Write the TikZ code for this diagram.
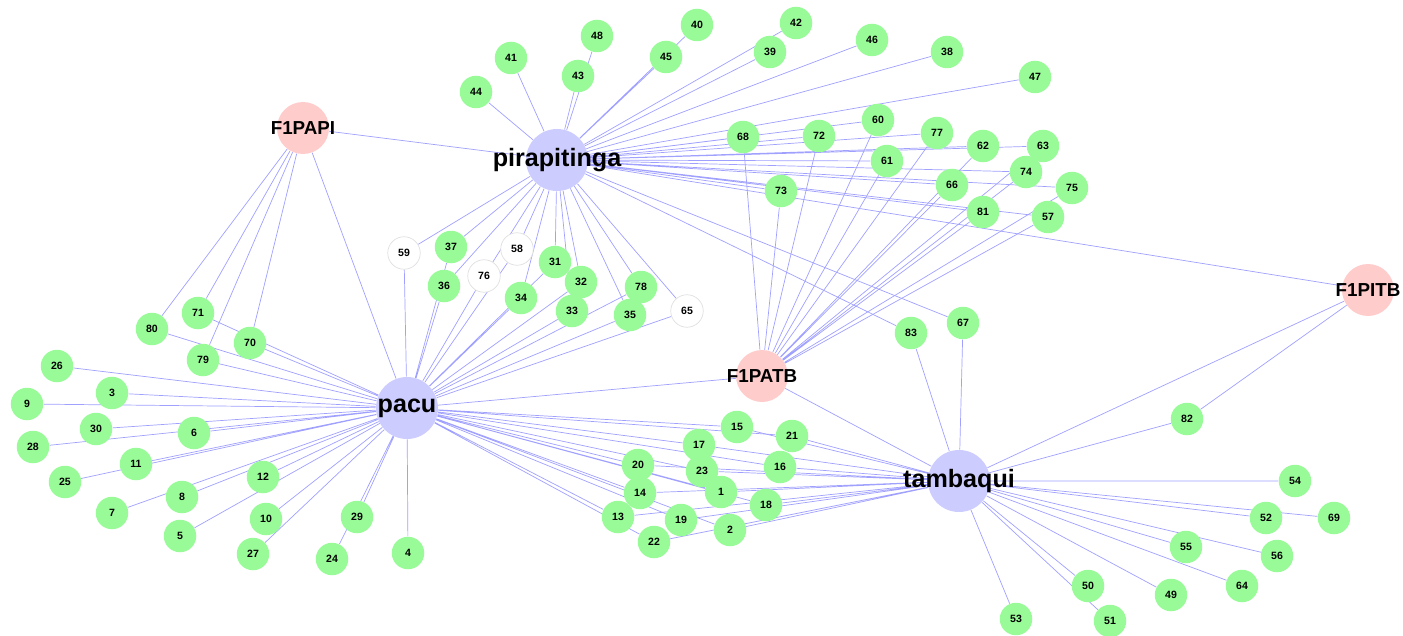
\documentclass[tikz,border=0pt]{standalone}
\usepackage{fontspec}
\setmainfont{Liberation Sans}
\usepackage{xcolor}
\usepackage{tikz}
\usetikzlibrary{backgrounds}
\definecolor{leafgreen}{RGB}{152,251,152}
\definecolor{fishblue}{RGB}{204,204,255}
\definecolor{hybridpink}{RGB}{255,204,204}
\definecolor{edgeblue}{RGB}{160,160,255}
\tikzstyle{sp} = [circle, inner sep = 0, minimum size = 6.5mm, fill = leafgreen, font = \bfseries\fontsize{6}{7}\selectfont]
\tikzstyle{spw} = [sp, fill = white, draw = black!12, line width = 0.4pt]
\tikzstyle{fish} = [circle, inner sep = 0, minimum size = 12.4mm, fill = fishblue]
\tikzstyle{hybrid} = [circle, inner sep = 0, minimum size = 10.4mm, fill = hybridpink]
\tikzstyle{bigname} = [inner sep = 0, font = \bfseries\fontsize{14.3}{16}\selectfont]
\tikzstyle{smallname} = [inner sep = 0, font = \bfseries\fontsize{10.7}{12}\selectfont]
\tikzstyle{link} = [-, draw = edgeblue, line width = 0.4pt]

\begin{document}
\begin{tikzpicture}[x=0.2mm, y=-0.2mm]
\useasboundingbox (0, 0) rectangle (1403, 636);
% hubs
\node [fish, label={[bigname]center:pirapitinga}] (pira) at (557, 160) {};
\node [fish, label={[bigname]center:pacu}] (pacu) at (407, 408) {};
\node [fish, label={[bigname]center:tambaqui}] (tamb) at (959, 481) {};
\node [hybrid, label={[smallname]center:F1PAPI}] (F1PAPI) at (303, 128) {};
\node [hybrid, label={[smallname]center:F1PATB}] (F1PATB) at (762, 376) {};
\node [hybrid, label={[smallname]center:F1PITB}] (F1PITB) at (1368, 290) {};
% top
\node [sp] (n44) at (476, 92) {44};
\node [sp] (n41) at (511, 58) {41};
\node [sp] (n43) at (578, 76) {43};
\node [sp] (n48) at (597, 36) {48};
\node [sp] (n45) at (666, 57) {45};
\node [sp] (n40) at (697, 25) {40};
\node [sp] (n39) at (770, 52) {39};
\node [sp] (n42) at (796, 23) {42};
\node [sp] (n46) at (872, 40) {46};
\node [sp] (n38) at (947, 52) {38};
\node [sp] (n47) at (1035, 77) {47};
% upper right
\node [sp] (n68) at (743, 137) {68};
\node [sp] (n72) at (819, 136) {72};
\node [sp] (n60) at (878, 120) {60};
\node [sp] (n77) at (937, 133) {77};
\node [sp] (n62) at (983, 146) {62};
\node [sp] (n63) at (1043, 146) {63};
\node [sp] (n61) at (887, 161) {61};
\node [sp] (n74) at (1026, 172) {74};
\node [sp] (n66) at (952, 185) {66};
\node [sp] (n75) at (1072, 188) {75};
\node [sp] (n73) at (781, 191) {73};
\node [sp] (n81) at (983, 212) {81};
\node [sp] (n57) at (1048, 217) {57};
\node [sp] (n83) at (911, 333) {83};
\node [sp] (n67) at (963, 323) {67};
\node [sp] (n82) at (1187, 419) {82};
% between pirapitinga and pacu
\node [spw] (n59) at (404, 253) {59};
\node [sp] (n37) at (451, 247) {37};
\node [sp] (n36) at (444, 286) {36};
\node [spw] (n76) at (484, 276) {76};
\node [spw] (n58) at (517, 249) {58};
\node [sp] (n31) at (555, 262) {31};
\node [sp] (n32) at (581, 282) {32};
\node [sp] (n34) at (521, 298) {34};
\node [sp] (n33) at (572, 311) {33};
\node [sp] (n78) at (641, 287) {78};
\node [sp] (n35) at (630, 315) {35};
\node [spw] (n65) at (687, 311) {65};
% left
\node [sp] (n80) at (152, 329) {80};
\node [sp] (n71) at (198, 313) {71};
\node [sp] (n70) at (250, 343) {70};
\node [sp] (n79) at (203, 360) {79};
\node [sp] (n26) at (57, 366) {26};
\node [sp] (n3) at (112, 393) {3};
\node [sp] (n9) at (27, 404) {9};
\node [sp] (n30) at (96, 429) {30};
\node [sp] (n28) at (33, 447) {28};
\node [sp] (n6) at (194, 433) {6};
\node [sp] (n11) at (136, 464) {11};
\node [sp] (n25) at (65, 482) {25};
\node [sp] (n12) at (263, 477) {12};
\node [sp] (n8) at (182, 497) {8};
\node [sp] (n7) at (112, 513) {7};
\node [sp] (n10) at (266, 519) {10};
\node [sp] (n5) at (180, 536) {5};
\node [sp] (n27) at (253, 554) {27};
\node [sp] (n29) at (357, 517) {29};
\node [sp] (n24) at (332, 559) {24};
\node [sp] (n4) at (408, 553) {4};
% between pacu and tambaqui
\node [sp] (n15) at (737, 427) {15};
\node [sp] (n21) at (792, 436) {21};
\node [sp] (n17) at (699, 445) {17};
\node [sp] (n23) at (702, 471) {23};
\node [sp] (n16) at (780, 467) {16};
\node [sp] (n20) at (638, 465) {20};
\node [sp] (n14) at (640, 493) {14};
\node [sp] (n1) at (721, 492) {1};
\node [sp] (n18) at (766, 505) {18};
\node [sp] (n13) at (618, 517) {13};
\node [sp] (n19) at (681, 520) {19};
\node [sp] (n22) at (654, 542) {22};
\node [sp] (n2) at (730, 530) {2};
% lower right
\node [sp] (n54) at (1295, 481) {54};
\node [sp] (n52) at (1266, 518) {52};
\node [sp] (n69) at (1334, 518) {69};
\node [sp] (n55) at (1186, 547) {55};
\node [sp] (n56) at (1277, 556) {56};
\node [sp] (n50) at (1088, 586) {50};
\node [sp] (n49) at (1171, 595) {49};
\node [sp] (n64) at (1242, 586) {64};
\node [sp] (n51) at (1110, 621) {51};
\node [sp] (n53) at (1016, 619) {53};

\begin{pgfonlayer}{background}
% pirapitinga
\draw [link] (pira) to (F1PAPI) (pira) to (F1PITB) (pira) to (n83) (pira) to (n67)
  (pira) to (n44) (pira) to (n41) (pira) to (n43) (pira) to (n48) (pira) to (n45) (pira) to (n40)
  (pira) to (n39) (pira) to (n42) (pira) to (n46) (pira) to (n38) (pira) to (n47)
  (pira) to (n68) (pira) to (n72) (pira) to (n60) (pira) to (n77) (pira) to (n62) (pira) to (n63)
  (pira) to (n61) (pira) to (n74) (pira) to (n66) (pira) to (n75) (pira) to (n73) (pira) to (n81) (pira) to (n57)
  (pira) to (n59) (pira) to (n37) (pira) to (n36) (pira) to (n76) (pira) to (n58) (pira) to (n31)
  (pira) to (n32) (pira) to (n34) (pira) to (n33) (pira) to (n78) (pira) to (n35) (pira) to (n65);
% pacu
\draw [link] (pacu) to (F1PAPI) (pacu) to (F1PATB)
  (pacu) to (n59) (pacu) to (n37) (pacu) to (n36) (pacu) to (n76) (pacu) to (n58) (pacu) to (n31)
  (pacu) to (n32) (pacu) to (n34) (pacu) to (n33) (pacu) to (n78) (pacu) to (n35) (pacu) to (n65)
  (pacu) to (n80) (pacu) to (n71) (pacu) to (n70) (pacu) to (n79) (pacu) to (n26) (pacu) to (n3)
  (pacu) to (n9) (pacu) to (n30) (pacu) to (n28) (pacu) to (n6) (pacu) to (n11) (pacu) to (n25)
  (pacu) to (n12) (pacu) to (n8) (pacu) to (n7) (pacu) to (n10) (pacu) to (n5) (pacu) to (n27)
  (pacu) to (n29) (pacu) to (n24) (pacu) to (n4)
  (pacu) to (n15) (pacu) to (n21) (pacu) to (n17) (pacu) to (n23) (pacu) to (n16) (pacu) to (n20)
  (pacu) to (n14) (pacu) to (n1) (pacu) to (n18) (pacu) to (n13) (pacu) to (n19) (pacu) to (n22) (pacu) to (n2);
% tambaqui
\draw [link] (tamb) to (F1PATB) (tamb) to (F1PITB) (tamb) to (n82) (tamb) to (n83) (tamb) to (n67)
  (tamb) to (n15) (tamb) to (n21) (tamb) to (n17) (tamb) to (n23) (tamb) to (n16) (tamb) to (n20)
  (tamb) to (n14) (tamb) to (n1) (tamb) to (n18) (tamb) to (n13) (tamb) to (n19) (tamb) to (n22) (tamb) to (n2)
  (tamb) to (n54) (tamb) to (n52) (tamb) to (n69) (tamb) to (n55) (tamb) to (n56) (tamb) to (n64)
  (tamb) to (n49) (tamb) to (n50) (tamb) to (n51) (tamb) to (n53);
% hybrids
\draw [link] (F1PAPI) to (n80) (F1PAPI) to (n71) (F1PAPI) to (n79) (F1PAPI) to (n70);
\draw [link] (F1PATB) to (n68) (F1PATB) to (n73) (F1PATB) to (n72) (F1PATB) to (n60) (F1PATB) to (n61)
  (F1PATB) to (n77) (F1PATB) to (n62) (F1PATB) to (n66) (F1PATB) to (n74) (F1PATB) to (n63)
  (F1PATB) to (n81) (F1PATB) to (n57) (F1PATB) to (n75);
\draw [link] (F1PITB) to (n82);
\end{pgfonlayer}
\end{tikzpicture}
\end{document}
